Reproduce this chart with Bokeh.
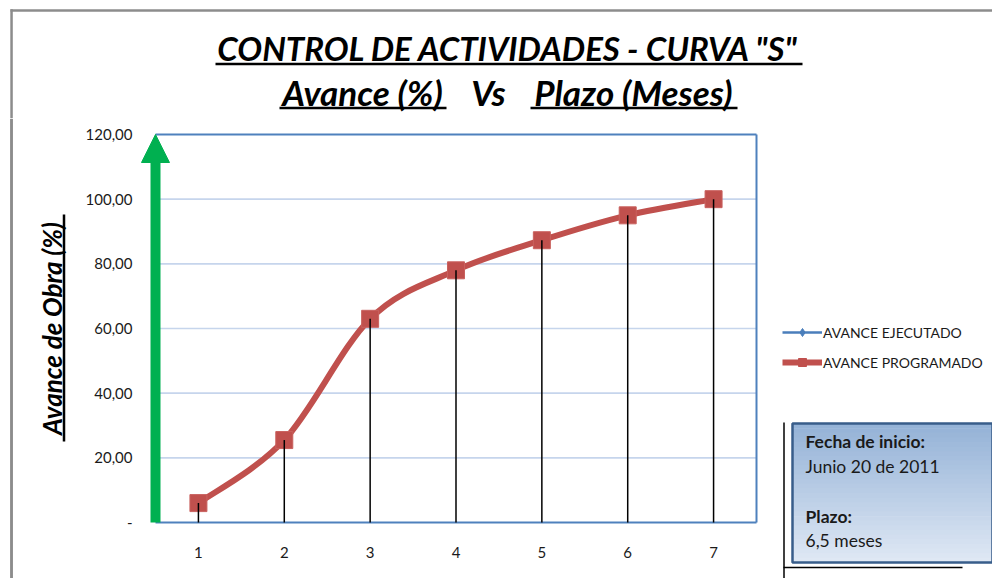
import numpy as np
from bokeh.plotting import figure
from bokeh.layouts import row, column
from bokeh.models import (Range1d, Label, Arrow, NormalHead, Legend, LegendItem, Span)
from bokeh.embed import file_html
from bokeh.resources import INLINE

# ---------------- data ----------------
meses = [1, 2, 3, 4, 5, 6, 7]
avance_programado = [6.0, 25.5, 63.0, 78.0, 87.3, 95.0, 100.0]
avance_ejecutado = []
y_ticks = [0, 20, 40, 60, 80, 100, 120]
y_tick_labels = ["-", "20,00", "40,00", "60,00", "80,00", "100,00", "120,00"]
x_tick_labels = ["1", "2", "3", "4", "5", "6", "7"]
titulo = 'CONTROL DE ACTIVIDADES - CURVA "S"'
subtitulo = ["Avance (%)", "Vs", "Plazo (Meses)"]
eje_y = "Avance de Obra (%)"
serie_ejecutado = "AVANCE EJECUTADO"
serie_programado = "AVANCE PROGRAMADO"
info_titulos = ["Fecha de inicio:", "Plazo:"]
info_valores = ["Junio 20 de 2011", "6,5 meses"]

RED = "#c0504d"
BLUE = "#4a7ebb"
FRAME_BLUE = "#4f81bd"
GRID = "#c6d5ec"
GREEN = "#00b050"
GRAY = "#8c8c8c"
FONT = "Lato"
TXT = "#1a1a1a"

TOP_H = 118          # height of the title strip
MID_H = 578 - TOP_H  # height of the chart row


def deco_fig(w, h, x0, x1, y_top, y_bot):
    f = figure(width=w, height=h, output_backend="svg", toolbar_location=None,
               x_range=Range1d(x0, x1), y_range=Range1d(y_bot, y_top),
               x_axis_type=None, y_axis_type=None,
               min_border_left=0, min_border_right=0, min_border_top=0, min_border_bottom=0)
    f.outline_line_color = None
    f.background_fill_color = "white"
    f.border_fill_color = "white"
    f.xgrid.visible = False
    f.ygrid.visible = False
    return f


def txt(f, text, x, y, size, style="normal", align="center", angle=0, color="black"):
    f.add_layout(Label(x=x, y=y, text=text, text_font=FONT, text_font_size=f"{size}px",
                       text_font_style=style, text_align=align, text_baseline="middle",
                       angle=angle, text_color=color))


# ---------------- title strip ----------------
T = deco_fig(992, TOP_H, 0, 992, 0, TOP_H)
T.quad(left=[10, 9.8], right=[992, 12.3], top=[8.8, 8.8], bottom=[11.3, TOP_H + 1],
       fill_color=GRAY, line_color=None)
txt(T, titulo, 508, 47, 33, "bold italic")
txt(T, subtitulo[0], 362, 91, 35, "bold italic")
txt(T, subtitulo[1], 488, 91, 35, "bold italic")
txt(T, subtitulo[2], 633, 91, 35, "bold italic")
T.segment(x0=[215, 279, 530], y0=[63.5, 107.5, 107.5], x1=[802, 446, 737], y1=[63.5, 107.5, 107.5],
          line_color="black", line_width=2.5)

# ---------------- left strip (y title) ----------------
Lf = deco_fig(70, MID_H, 0, 70, TOP_H, 578)
Lf.add_layout(Span(location=11, dimension="height", line_color=GRAY, line_width=2.5))
Lf.quad(left=[9.8], right=[12.3], top=[TOP_H + 0.5], bottom=[577.5], fill_color=GRAY, line_color=None)
txt(Lf, eje_y, 51, 328, 26, "bold italic", angle=np.pi / 2)
Lf.segment(x0=[63.5], y0=[214], x1=[63.5], y1=[441], line_color="black", line_width=2.5)

# ---------------- main chart ----------------
PX_X = 85.86
PX_Y = 3.2333
x_lo = 0.5 - 15 / PX_X
x_hi = 7.5 + 2 / PX_X
y_lo = -3 / PX_Y
y_hi = 120 + 3 / PX_Y
M = figure(width=700, height=MID_H, output_backend="svg", toolbar_location=None,
           x_range=Range1d(x_lo, x_hi), y_range=Range1d(y_lo, y_hi),
           min_border_left=70, min_border_right=12, min_border_top=131 - TOP_H, min_border_bottom=53)
M.background_fill_color = "white"
M.border_fill_color = "white"
M.outline_line_color = None
M.xgrid.visible = False
M.ygrid.visible = False

M.xaxis.ticker = meses
M.xaxis.major_label_overrides = {m: t for m, t in zip(meses, x_tick_labels)}
M.xaxis.axis_line_color = None
M.xaxis.major_tick_line_color = None
M.xaxis.minor_tick_line_color = None
M.xaxis.major_label_standoff = 15
M.xaxis.major_label_text_font = FONT
M.xaxis.major_label_text_font_size = "15px"
M.xaxis.major_label_text_color = TXT

M.yaxis.ticker = y_ticks
M.yaxis.major_label_overrides = {v: t for v, t in zip(y_ticks, y_tick_labels)}
M.yaxis.axis_line_color = None
M.yaxis.major_tick_line_color = None
M.yaxis.minor_tick_line_color = None
M.yaxis.major_label_standoff = 2
M.yaxis.major_label_text_font = FONT
M.yaxis.major_label_text_font_size = "15px"
M.yaxis.major_label_text_color = TXT

# horizontal gridlines (within the plot area only)
gy = y_ticks[1:-1]
M.segment(x0=[0.5] * len(gy), y0=gy, x1=[7.5] * len(gy), y1=gy, line_color=GRID, line_width=1.6)
# plot-area border: top, right, bottom
M.segment(x0=[0.5, 7.5, 0.5], y0=[120, 0, 0], x1=[7.5, 7.5, 7.5], y1=[120, 120, 0],
          line_color=FRAME_BLUE, line_width=2)

# smoothed programmed curve (Bezier through the points)
xs = np.array(meses, dtype=float)
ys = np.array(avance_programado, dtype=float)
xp = np.concatenate([[xs[0]], xs, [xs[-1]]])
yp = np.concatenate([[ys[0]], ys, [ys[-1]]])
n = len(xs)
cx0 = xs[:-1] + (xp[2:n + 1] - xp[0:n - 1]) / 6
cy0 = ys[:-1] + (yp[2:n + 1] - yp[0:n - 1]) / 6
cx1 = xs[1:] - (xp[3:n + 2] - xp[1:n]) / 6
cy1 = ys[1:] - (yp[3:n + 2] - yp[1:n]) / 6
M.bezier(x0=xs[:-1], y0=ys[:-1], x1=xs[1:], y1=ys[1:], cx0=cx0, cy0=cy0, cx1=cx1, cy1=cy1,
         line_color=RED, line_width=6)
M.scatter(meses, avance_programado, marker="square", size=17,
          fill_color=RED, line_color="#c9615e", line_width=1)
M.line(meses[:len(avance_ejecutado)], avance_ejecutado, line_color=BLUE, line_width=2.5)
M.scatter(meses[:len(avance_ejecutado)], avance_ejecutado, marker="diamond", size=11,
          fill_color=BLUE, line_color=BLUE)
# drop lines
M.segment(x0=meses, y0=[0] * len(meses), x1=meses, y1=avance_programado,
          line_color="black", line_width=1.5)

# green arrow along the value axis
M.add_layout(Arrow(end=NormalHead(size=28, fill_color=GREEN, line_color=GREEN, line_width=1),
                   x_start=0.5, y_start=0, x_end=0.5, y_end=120,
                   line_color=GREEN, line_width=10))

# ---------------- right strip (legend + info box) ----------------
R = deco_fig(222, MID_H, 770, 992, TOP_H, 578)
off = [-5000, -4000]   # legend proxies lie outside the visible range
pe_line = R.line(off, off, line_color=BLUE, line_width=2.5)
pe_pts = R.scatter(off, off, marker="diamond", size=11, fill_color=BLUE, line_color=BLUE)
pp_line = R.line(off, off, line_color=RED, line_width=6)
pp_pts = R.scatter(off, off, marker="square", size=12, fill_color=RED, line_color=RED)
legend = Legend(items=[LegendItem(label=serie_ejecutado, renderers=[pe_line, pe_pts], index=0),
                       LegendItem(label=serie_programado, renderers=[pp_line, pp_pts], index=0)],
                location=(12, 206), border_line_color=None, background_fill_alpha=0,
                glyph_width=40, glyph_height=20, spacing=10, padding=0, margin=0,
                label_standoff=1, label_text_font=FONT, label_text_font_size="14px",
                label_text_color=TXT)
R.add_layout(legend, "center")

top, bot = 423, 562
c0 = np.array([0x95, 0xb3, 0xd7])
c1 = np.array([0xdf, 0xe8, 0xf4])
steps = 30
tops, bots, cols = [], [], []
for i in range(steps):
    t = i / (steps - 1)
    c = (c0 * (1 - t) + c1 * t).astype(int)
    tops.append(top + (bot - top) * i / steps)
    bots.append(top + (bot - top) * (i + 1) / steps + 0.7)
    cols.append("#%02x%02x%02x" % tuple(c))
R.quad(left=[792] * steps, right=[992] * steps, top=tops, bottom=bots, fill_color=cols, line_color=None)
R.quad(left=[792], right=[992], top=[top], bottom=[bot], fill_color=None,
       line_color="#385d8a", line_width=2.5)
txt(R, info_titulos[0], 805, 441, 17.5, "bold", align="left", color=TXT)
txt(R, info_valores[0], 805, 466, 17.5, "normal", align="left", color=TXT)
txt(R, info_titulos[1], 805, 516, 17.5, "bold", align="left", color=TXT)
txt(R, info_valores[1], 805, 540, 17.5, "normal", align="left", color=TXT)
R.segment(x0=[783.5, 783], y0=[422, 567], x1=[783.5, 962], y1=[578, 567], line_color="black", line_width=1.5)

layout = column(T, row(column(Lf), column(M), column(R)))
open("out.html", "w").write(file_html(layout, INLINE))
